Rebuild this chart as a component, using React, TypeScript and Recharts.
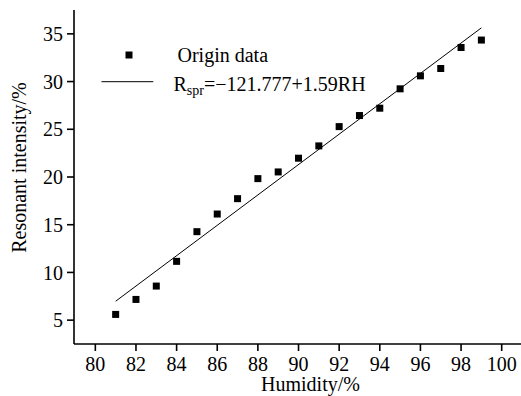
import React from 'react';
import { ScatterChart, Scatter, XAxis, YAxis, Legend } from 'recharts';

const humidity = [81, 82, 83, 84, 85, 86, 87, 88, 89, 90, 91, 92, 93, 94, 95, 96, 97, 98, 99];
const intensity = [5.6, 7.17, 8.57, 11.16, 14.27, 16.12, 17.73, 19.83, 20.53, 21.97, 23.26, 25.28, 26.44, 27.21, 29.24, 30.6, 31.37, 33.57, 34.35];
const fitHumidity = [81, 99];
const fitIntensity = [6.98, 35.63];
const xTicks = [80, 82, 84, 86, 88, 90, 92, 94, 96, 98, 100];
const yTicks = [5, 10, 15, 20, 25, 30, 35];

const points = humidity.map((h, i) => ({ x: h, y: intensity[i] }));
const fit = fitHumidity.map((h, i) => ({ x: h, y: fitIntensity[i] }));

const FONT = 'Liberation Serif';
const textStyle = { fontFamily: FONT, fontSize: 20, fill: '#000' };

const Square = (p: any) => (
  <rect x={p.cx - 3.5} y={p.cy - 3.5} width={7} height={7} fill="#000" />
);

const Empty = () => <g />;

const LegendContent = () => (
  <svg width={521} height={100} style={{ display: 'block' }}>
    <rect x={125.5} y={51.5} width={7} height={7} fill="#000" />
    <text x={177.5} y={62} style={textStyle}>Origin data</text>
    <line x1={101.5} y1={81.7} x2={153.3} y2={81.7} stroke="#000" strokeWidth={1} />
    <text x={173.5} y={91} style={textStyle}>
      R
      <tspan style={{ fontSize: 14 }} dy={4}>spr</tspan>
      <tspan dy={-4}>=−121.777+1.59RH</tspan>
    </text>
  </svg>
);

const YLabel = (props: any) => {
  const vb = props.viewBox || { x: 0, y: 10, width: 74, height: 334 };
  const cx = vb.x + 19;
  const cy = vb.y + vb.height / 2 - 9.5;
  return (
    <text
      x={cx}
      y={cy}
      transform={`rotate(-90 ${cx} ${cy})`}
      textAnchor="middle"
      dominantBaseline="central"
      style={textStyle}
    >
      Resonant intensity/%
    </text>
  );
};

const XLabel = (props: any) => {
  const vb = props.viewBox || { x: 74, y: 344, width: 447, height: 52 };
  const cx = vb.x + vb.width / 2 + 13;
  const y = vb.y + 47;
  return (
    <text x={cx} y={y} textAnchor="middle" style={textStyle}>
      Humidity/%
    </text>
  );
};

export default function App() {
  return (
    <div style={{ position: 'absolute', left: 0, top: 0, width: 521, height: 396, background: '#fff', fontFamily: FONT }}>
      <ScatterChart width={521} height={396} margin={{ top: 10, right: 0, bottom: 0, left: 0 }} style={{ fontFamily: FONT }}>
        <XAxis
          type="number"
          dataKey="x"
          domain={[78.95, 100.95]}
          ticks={xTicks}
          interval={0}
          allowDataOverflow
          height={52}
          tickSize={7}
          tickMargin={6}
          axisLine={{ stroke: '#000', strokeWidth: 1.6 }}
          tickLine={{ stroke: '#000', strokeWidth: 1.6 }}
          tick={{ fill: '#000', fontSize: 20, fontFamily: FONT }}
          label={<XLabel />}
        />
        <YAxis
          type="number"
          dataKey="y"
          domain={[2.5, 37.5]}
          ticks={yTicks}
          interval={0}
          allowDataOverflow
          width={74}
          tickSize={7}
          tickMargin={4}
          axisLine={{ stroke: '#000', strokeWidth: 1.6 }}
          tickLine={{ stroke: '#000', strokeWidth: 1.6 }}
          tick={{ fill: '#000', fontSize: 20, fontFamily: FONT }}
          label={<YLabel />}
        />
        <Legend
          verticalAlign="middle"
          align="center"
          wrapperStyle={{ left: 0, top: 0, width: 521, height: 100 }}
          content={<LegendContent />}
        />
        <Scatter
          data={fit}
          line={{ stroke: '#000', strokeWidth: 1 }}
          shape={<Empty />}
          isAnimationActive={false}
        />
        <Scatter data={points} shape={<Square />} isAnimationActive={false} />
      </ScatterChart>
    </div>
  );
}
